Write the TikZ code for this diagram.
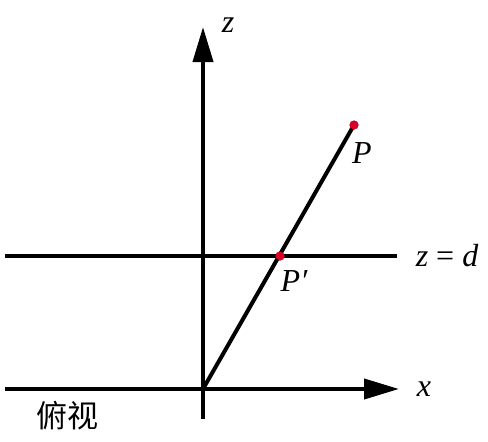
\documentclass[tikz,border=0pt]{standalone}
\usepackage{fontspec}
\newfontfamily\cjk{Noto Sans CJK SC}
\newfontfamily\tms{Liberation Serif}
\usetikzlibrary{arrows.meta}
\definecolor{ptred}{RGB}{215,0,40}
\tikzset{
  axis/.style={line width=4pt, -{Triangle[length=35pt,width=20pt]}},
  plain/.style={line width=4pt},
  dot/.style={circle, fill=ptred, inner sep=0pt, minimum size=9pt},
  lab/.style={inner sep=0pt, font=\tms\fontsize{32}{36}\selectfont}
}
\begin{document}
\begin{tikzpicture}[x=1pt,y=-1pt]
\useasboundingbox (0,0) rectangle (488,442);
% coordinates
\coordinate (zb) at (203,419);
\coordinate (zt) at (203,27);
\coordinate (xl) at (5,389);
\coordinate (xr) at (399,389);
\coordinate (dl) at (5,256);
\coordinate (dr) at (397,256);
\coordinate (O) at (203,389);
% axes
\draw[axis] (zb) -- (zt);
\draw[axis] (xl) -- (xr);
\draw[plain] (dl) -- (dr);
% dots
\node[dot] (P) at (354,125) {};
\node[dot] (Pp) at (280,256) {};
\draw[plain] (O) -- (P.center);
\node[dot] at (354,125) {};
\node[dot] at (280,256) {};
% labels
\node[lab] (zl) at (228,25) {\itshape z};
\node[lab] (xlab) at (424,389) {\itshape x};
\node[lab] (zd) at (447,256) {\itshape z\/\hspace{8pt}\upshape=\hspace{8pt}\itshape d};
\node[lab] (Pl) at (362,153) {\itshape P};
\node[lab] (Ppl) at (294,281) {\itshape P′};
\node[inner sep=0pt, font=\cjk\fontsize{31}{36}\selectfont] (fs) at (68,416) {俯视};
\end{tikzpicture}
\end{document}
